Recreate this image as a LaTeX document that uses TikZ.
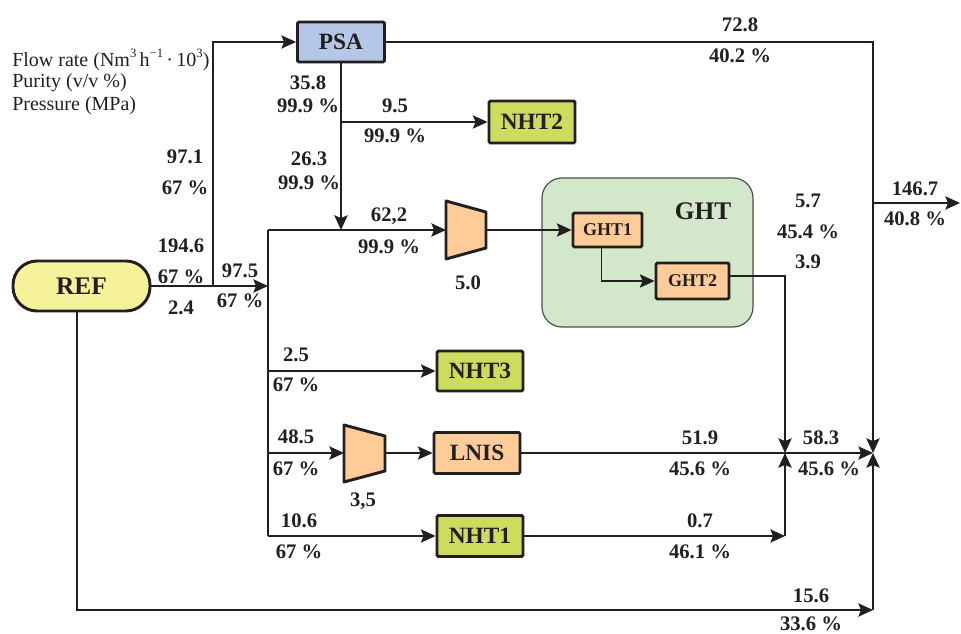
\documentclass[tikz,border=0pt]{standalone}
\usepackage{fontspec}
\setmainfont{Liberation Serif}
\usetikzlibrary{arrows.meta,calc}
\definecolor{ink}{HTML}{231F20}
\definecolor{psablue}{HTML}{B4C7E7}
\definecolor{refyellow}{HTML}{F6F29C}
\definecolor{nhtgreen}{HTML}{CCDD5E}
\definecolor{orng}{HTML}{FFCC99}
\definecolor{ghtgreen}{HTML}{D3E8CA}
\newcommand\mysup[1]{\raisebox{0.42em}{\fontsize{9.5}{9.5}\selectfont #1}}
\begin{document}
\begin{tikzpicture}[x=0.75pt,y=-0.75pt,
  arr/.style={draw=ink, line width=0.9pt, -{Stealth[length=11pt,width=10pt,inset=2pt]}},
  ln/.style={draw=ink, line width=0.9pt},
  box/.style={draw=ink, line width=2.2pt, rounded corners=1pt, inner sep=0pt, text=ink, font=\bfseries\fontsize{17.5}{17.5}\selectfont},
  lab/.style={text=ink, inner sep=0pt, font=\bfseries\fontsize{15.5}{15.5}\selectfont},
  comp/.style={draw=ink, line width=2.2pt, fill=orng, line join=round}]
\useasboundingbox (0,0) rectangle (961,634);

% container
\node[draw=ink!80, line width=0.9pt, fill=ghtgreen, rounded corners=15pt, minimum width=158.25pt, minimum height=111.75pt, inner sep=0pt] (GHT) at (647.5,252.5) {};
\node[text=ink, font=\bfseries\fontsize{19}{19}\selectfont, inner sep=0pt] (GHTlab) at (703,211) {GHT};

% boxes
\node[box, fill=psablue, minimum width=65.25pt, minimum height=30pt] (PSA) at (341,42) {PSA};
\node[box, fill=refyellow, rounded corners=18pt, minimum width=102.75pt, minimum height=37.5pt, font=\bfseries\fontsize{19}{19}\selectfont] (REF) at (81.5,286) {REF};
\node[box, fill=nhtgreen, minimum width=64.5pt, minimum height=31.5pt] (NHT2) at (532,122) {NHT2};
\node[box, fill=nhtgreen, minimum width=64.5pt, minimum height=30pt] (NHT3) at (480,371) {NHT3};
\node[box, fill=orng, minimum width=64.5pt, minimum height=30.75pt] (LNIS) at (477,453) {LNIS};
\node[box, fill=nhtgreen, minimum width=64.5pt, minimum height=30.75pt] (NHT1) at (480,536) {NHT1};
\node[box, fill=orng, minimum width=51.75pt, minimum height=25.5pt, font=\bfseries\fontsize{13.5}{13.5}\selectfont] (GHT1) at (607.5,230) {GHT1};
\node[box, fill=orng, minimum width=54.75pt, minimum height=27pt, font=\bfseries\fontsize{13.5}{13.5}\selectfont] (GHT2) at (692.5,281) {GHT2};

% compressors
\draw[comp] (446,201) -- (486,212) -- (486,248) -- (446,259) -- cycle;
\coordinate (c1w) at (446,230);
\coordinate (c1e) at (486,230);
\draw[comp] (344,425) -- (385,436) -- (385,471) -- (344,482) -- cycle;
\coordinate (c2w) at (344,453);
\coordinate (c2e) at (385,453);

% junction coordinates
\coordinate (j1) at (213,286);
\coordinate (j2) at (268,286);
\coordinate (bt) at (268,230);
\coordinate (b3) at (268,371);
\coordinate (b4) at (268,453);
\coordinate (bb) at (268,536);
\coordinate (p1) at (341,230);
\coordinate (m1) at (785,453);
\coordinate (m2) at (873,453);
\coordinate (n1c) at (785,536);
\coordinate (o1) at (873,203);
\coordinate (o2) at (960,203);
\coordinate (r2) at (873,610);

% connectors
\draw[ln] (REF.east) -- (j1);
\draw[arr] (j1) -- (j2);
\draw[arr] (j1) |- (PSA.west);
\draw[ln] (bt) -- (bb);
\draw[arr] (bt) -- (c1w);
\draw[arr] (PSA.south) -- (p1);
\draw[arr] (PSA.south |- NHT2.west) -- (NHT2.west);
\draw[arr] (c1e) -- (GHT1.west);
\draw[arr] ([xshift=-4.5pt]GHT1.south) |- (GHT2.west);
\draw[arr] ([yshift=3.75pt]GHT2.east) -| (m1);
\draw[arr] (b3) -- (NHT3.west);
\draw[arr] (b4) -- (c2w);
\draw[arr] (c2e) -- (LNIS.west);
\draw[arr] (LNIS.east) -- (m2);
\draw[arr] (bb) -- (NHT1.west);
\draw[arr] (NHT1.east) -- (n1c);
\draw[arr] (n1c) -- (m1);
\draw[arr] (PSA.east) -| (m2);
\draw[arr] (o1) -- (o2);
\draw[arr] ([xshift=-3.4pt]REF.south) |- (r2);
\draw[arr] (r2) -- (m2);

% legend
\node[anchor=west, text=ink, inner sep=0pt, font=\fontsize{15}{15}\selectfont] (leg1) at (12,60) {Flow rate (Nm\mysup{3}\,h\mysup{\char"2212 1}\,·\,10\mysup{3})};
\node[anchor=west, text=ink, inner sep=0pt, font=\fontsize{15}{15}\selectfont] (leg2) at (12,83) {Purity (v/v \%)};
\node[anchor=west, text=ink, inner sep=0pt, font=\fontsize{15}{15}\selectfont] (leg3) at (12,106) {Pressure (MPa)};

% labels
\node[lab] (l1) at (185,157) {97.1};
\node[lab] (l2) at (185,188) {67 \%};
\node[lab] (l3) at (181,246) {194.6};
\node[lab] (l4) at (181,277) {67 \%};
\node[lab] (l5) at (181,308) {2.4};
\node[lab] (l6) at (240,271) {97.5};
\node[lab] (l7) at (240,301) {67 \%};
\node[lab] (l8) at (308,83) {35.8};
\node[lab] (l9) at (308,106) {99.9 \%};
\node[lab] (l10) at (395,106) {9.5};
\node[lab] (l11) at (395,136) {99.9 \%};
\node[lab] (l12) at (309,159) {26.3};
\node[lab] (l13) at (309,183) {99.9 \%};
\node[lab] (l14) at (389,216) {62,2};
\node[lab] (l15) at (389,247) {99.9 \%};
\node[lab] (l16) at (468,283) {5.0};
\node[lab] (l17) at (740,25) {72.8};
\node[lab] (l18) at (740,56) {40.2 \%};
\node[lab] (l19) at (808,201) {5.7};
\node[lab] (l20) at (808,232) {45.4 \%};
\node[lab] (l21) at (808,262) {3.9};
\node[lab] (l22) at (915,189) {146.7};
\node[lab] (l23) at (915,219) {40.8 \%};
\node[lab] (l24) at (296,355) {2.5};
\node[lab] (l25) at (296,385) {67 \%};
\node[lab] (l26) at (296,437) {48.5};
\node[lab] (l27) at (296,469) {67 \%};
\node[lab] (l28) at (363,501) {3,5};
\node[lab] (l29) at (299,521) {10.6};
\node[lab] (l30) at (299,552) {67 \%};
\node[lab] (l31) at (700,438) {51.9};
\node[lab] (l32) at (700,469) {45.6 \%};
\node[lab] (l33) at (821,438) {58.3};
\node[lab] (l34) at (829,469) {45.6 \%};
\node[lab] (l35) at (700,521) {0.7};
\node[lab] (l36) at (700,552) {46.1 \%};
\node[lab] (l37) at (811,596) {15.6};
\node[lab] (l38) at (811,624) {33.6 \%};
\end{tikzpicture}
\end{document}
